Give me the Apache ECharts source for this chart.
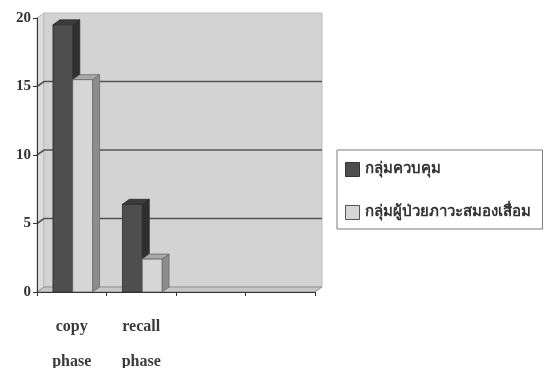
<!DOCTYPE html>
<html>
<head>
<meta charset="utf-8">
<script src="https://cdn.jsdelivr.net/npm/echarts@6/dist/echarts.min.js"></script>
<style>
  html, body { margin: 0; padding: 0; background: #ffffff; }
  #chart { width: 544px; height: 368px; }
</style>
</head>
<body>
<div id="chart"></div>
<script>
// Mean scores per phase for the two groups
const categories = ['copy\nphase', 'recall\nphase', '', ''];
const seriesNames = ['กลุ่มควบคุม', 'กลุ่มผู้ป่วยภาวะสมองเสื่อม'];
const controlValues = [19.5, 6.4];
const dementiaValues = [15.5, 2.4];
const yTicks = [0, 5, 10, 15, 20];

// 3D depth offset of the back wall
const DX = 7, DY = -5;

const faceColors = [
  { front: '#4e4e4e', side: '#2f2f2f', top: '#3c3c3c', stroke: '#2a2a2a' },
  { front: '#d6d6d6', side: '#8c8c8c', top: '#a8a8a8', stroke: '#6a6a6a' }
];

function wallsRender(params, api) {
  const cs = params.coordSys;
  const x = cs.x, y = cs.y, w = cs.width, h = cs.height;
  const children = [];
  // left wall
  children.push({ type: 'polygon', shape: { points: [[x, y], [x + DX, y + DY], [x + DX, y + h + DY], [x, y + h]] },
    style: { fill: '#dcdcdc', stroke: '#b5b5b5', lineWidth: 1 } });
  // back wall
  children.push({ type: 'rect', shape: { x: x + DX, y: y + DY, width: w, height: h },
    style: { fill: '#d3d3d3', stroke: '#bdbdbd', lineWidth: 1 } });
  // floor
  children.push({ type: 'polygon', shape: { points: [[x, y + h], [x + DX, y + h + DY], [x + w + DX, y + h + DY], [x + w, y + h]] },
    style: { fill: '#c6c6c6', stroke: '#959595', lineWidth: 1 } });
  // gridlines on the back wall, joined to the front axis across the left wall
  yTicks.forEach(function (v) {
    if (v === 0 || v === yTicks[yTicks.length - 1]) return;
    const yy = api.coord([0, v])[1];
    children.push({ type: 'polyline', shape: { points: [[x, yy], [x + DX, yy + DY], [x + w + DX, yy + DY]] },
      style: { fill: null, stroke: '#555555', lineWidth: 1.6 } });
  });
  return { type: 'group', children: children };
}

function barRender(sIdx) {
  return function (params, api) {
    const idx = api.value(0);
    const val = api.value(1);
    const base = api.coord([idx, 0]);
    const top = api.coord([idx, val]);
    const band = api.size([1, 0])[0];
    const bw = band * 0.285;
    const left = base[0] - bw + sIdx * bw + 1;
    const y0 = base[1], y1 = top[1];
    const c = faceColors[sIdx];
    return {
      type: 'group',
      children: [
        { type: 'polygon', shape: { points: [[left + bw, y1], [left + bw + DX, y1 + DY], [left + bw + DX, y0 + DY], [left + bw, y0]] },
          style: { fill: c.side, stroke: c.stroke, lineWidth: 0.8 } },
        { type: 'polygon', shape: { points: [[left, y1], [left + DX, y1 + DY], [left + bw + DX, y1 + DY], [left + bw, y1]] },
          style: { fill: c.top, stroke: c.stroke, lineWidth: 0.8 } },
        { type: 'rect', shape: { x: left, y: y1, width: bw, height: y0 - y1 },
          style: { fill: c.front, stroke: c.stroke, lineWidth: 0.8 } }
      ]
    };
  };
}

const chart = echarts.init(document.getElementById('chart'), null, { renderer: 'canvas' });
chart.setOption({
  animation: false,
  backgroundColor: '#ffffff',
  grid: { left: 37, right: 229, top: 18, bottom: 76, containLabel: false, outerBoundsMode: 'none' },
  legend: {
    orient: 'vertical',
    left: 337,
    top: 150,
    padding: [12, 12, 9, 8],
    itemGap: 28,
    itemWidth: 14,
    itemHeight: 14,
    borderColor: '#7a7a7a',
    borderWidth: 1,
    textStyle: { fontFamily: 'serif', fontSize: 15, fontWeight: 'bold', color: '#333333' },
    data: [
      { name: seriesNames[0], icon: 'rect', itemStyle: { color: faceColors[0].front, borderColor: '#333333', borderWidth: 1 } },
      { name: seriesNames[1], icon: 'rect', itemStyle: { color: faceColors[1].front, borderColor: '#555555', borderWidth: 1 } }
    ]
  },
  xAxis: {
    type: 'category',
    data: categories,
    z: 5,
    boundaryGap: true,
    axisLine: { show: true, lineStyle: { color: '#333333', width: 1 } },
    axisTick: { show: true, length: 4, lineStyle: { color: '#333333' } },
    axisLabel: {
      interval: 0,
      margin: 17,
      fontFamily: 'Liberation Serif',
      fontWeight: 'bold',
      fontSize: 16,
      lineHeight: 35,
      color: '#3a3a3a'
    },
    splitLine: { show: false }
  },
  yAxis: {
    type: 'value',
    min: 0,
    max: 20,
    interval: 5,
    z: 5,
    axisLine: { show: true, lineStyle: { color: '#333333', width: 1 } },
    axisTick: { show: true, length: 4, lineStyle: { color: '#333333' } },
    axisLabel: {
      margin: 6,
      fontFamily: 'Liberation Serif',
      fontWeight: 'bold',
      fontSize: 15,
      color: '#333333'
    },
    splitLine: { show: false }
  },
  series: [
    { type: 'custom', name: '_walls', z: 1, silent: true, renderItem: wallsRender, data: [[0, 0]], encode: { x: 0, y: 1 } },
    { type: 'custom', name: seriesNames[0], z: 3, renderItem: barRender(0),
      itemStyle: { color: faceColors[0].front },
      data: controlValues.map(function (v, i) { return [i, v]; }), encode: { x: 0, y: 1 } },
    { type: 'custom', name: seriesNames[1], z: 3, renderItem: barRender(1),
      itemStyle: { color: faceColors[1].front },
      data: dementiaValues.map(function (v, i) { return [i, v]; }), encode: { x: 0, y: 1 } }
  ]
});
</script>
</body>
</html>
